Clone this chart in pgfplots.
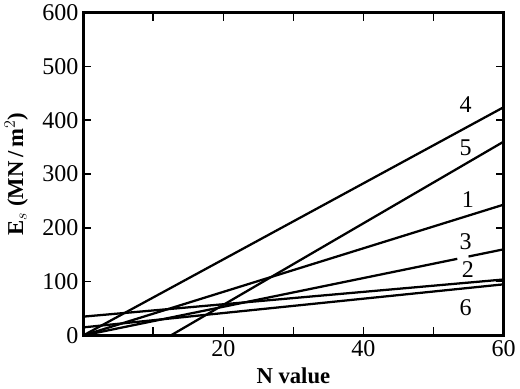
\documentclass[border=0pt]{standalone}
\usepackage{fontspec}
\setmainfont{Liberation Serif}
\usepackage{pgfplots}
\pgfplotsset{compat=1.18}

\begin{document}
\begin{tikzpicture}
\begin{axis}[
  scale only axis,
  width=315pt, height=242pt,
  xmin=0, xmax=60, ymin=0, ymax=600,
  xtick={10,20,30,40,50,60},
  xticklabels={,20,,40,,60},
  ytick={0,100,200,300,400,500,600},
  tick align=inside,
  major tick length=6pt,
  tick style={line width=1.2pt, black},
  axis line style={line width=2pt},
  /pgf/number format/assume math mode=true,
  tick label style={font=\fontsize{18}{21}\selectfont},
  label style={font=\fontsize{17}{20}\selectfont},
  xlabel={\bfseries N value},
  ylabel={\bfseries E$_s$ (MN\,/\,m$^2$)},
  ylabel style={yshift=4pt},
  xlabel style={yshift=-2pt},
  clip=true,
]
% 4
\addplot[black, line width=1.7pt, no marks, solid] coordinates {(0,0) (60,424)};
% 5
\addplot[black, line width=1.7pt, no marks, solid] coordinates {(12.5,0) (60,360)};
% 1
\addplot[black, line width=1.7pt, no marks, solid] coordinates {(0,0) (60,243)};
% 3 (broken at the label)
\addplot[black, line width=1.7pt, no marks, solid] coordinates {(0,0) (53.4,142.4)};
\addplot[black, line width=1.7pt, no marks, solid] coordinates {(55,146.7) (60,160)};
% 2
\addplot[black, line width=1.7pt, no marks, solid] coordinates {(0,35) (60,104)};
% 6
\addplot[black, line width=1.7pt, no marks, solid] coordinates {(0,15) (60,95)};

\node[font=\fontsize{18}{21}\selectfont] at (axis cs:54.6,429) {4};
\node[font=\fontsize{18}{21}\selectfont] at (axis cs:54.6,349) {5};
\node[font=\fontsize{18}{21}\selectfont] at (axis cs:54.9,253) {1};
\node[font=\fontsize{18}{21}\selectfont] at (axis cs:54.6,175) {3};
\node[font=\fontsize{18}{21}\selectfont] at (axis cs:54.9,123) {2};
\node[font=\fontsize{18}{21}\selectfont] at (axis cs:54.6,52) {6};
\end{axis}
\end{tikzpicture}
\end{document}
